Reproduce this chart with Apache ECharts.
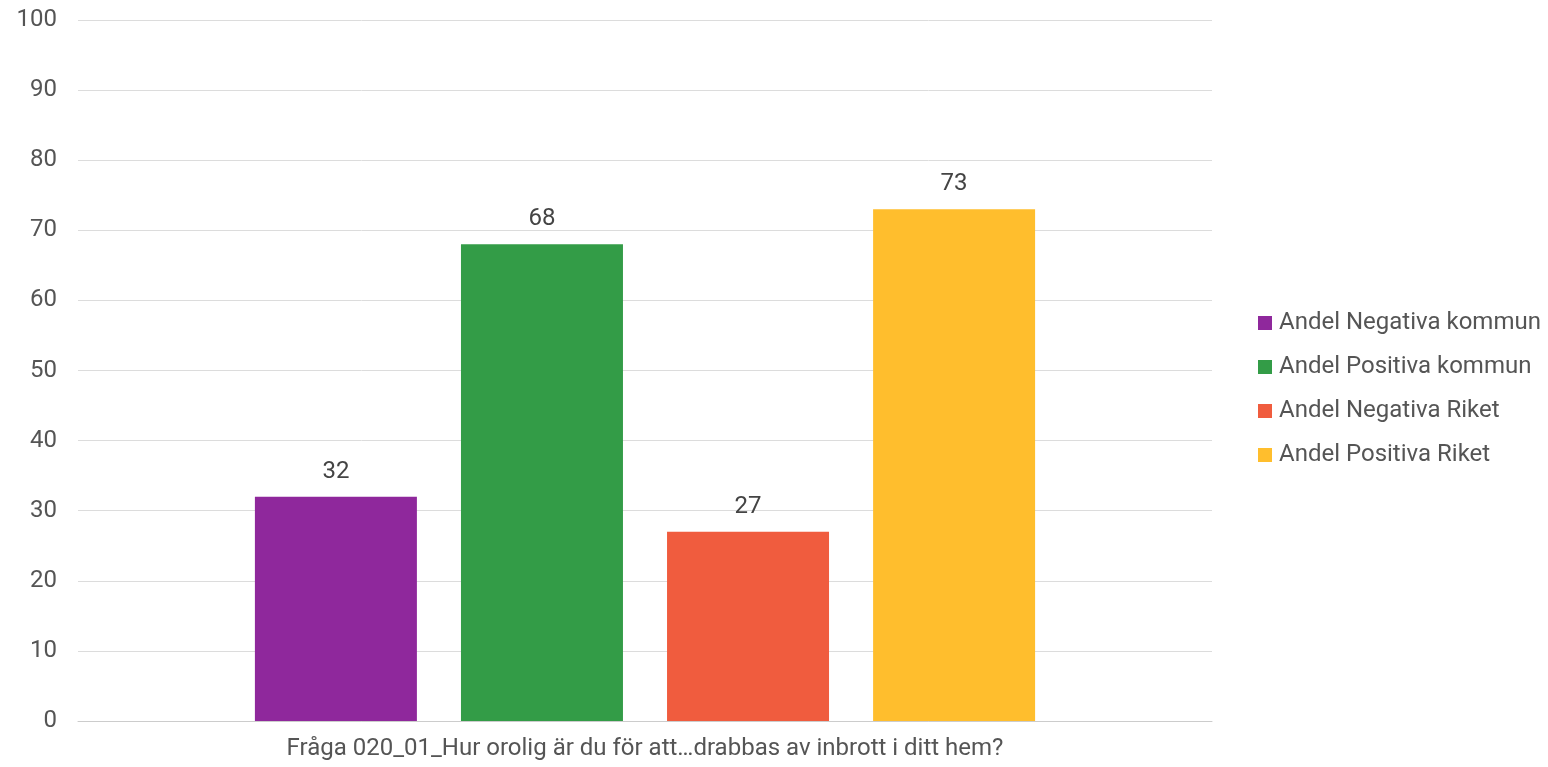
<!DOCTYPE html>
<html><head><meta charset="utf-8">
<script src="https://cdn.jsdelivr.net/npm/echarts@6/dist/echarts.min.js"></script>
<style>html,body{margin:0;padding:0;background:#fff}#c{width:1548px;height:767px}</style>
</head><body><div id="c"></div>
<script>
const categories = ['Fråga 020_01_Hur orolig är du för att…drabbas av inbrott i ditt hem?'];
const seriesNames = ['Andel Negativa kommun', 'Andel Positiva kommun', 'Andel Negativa Riket', 'Andel Positiva Riket'];
const seriesValues = [[32], [68], [27], [73]];
const colors = ['#8F289C', '#339C47', '#F05C3E', '#FFBE2D'];

const chart = echarts.init(document.getElementById('c'));
const font = 'Roboto';
chart.setOption({
  animation: false,
  textStyle: { fontFamily: font },
  grid: { left: 78, right: 336, top: 20, bottom: 46, containLabel: false },
  legend: {
    orient: 'vertical', left: 1253, top: 306,
    itemWidth: 14, itemHeight: 14, itemGap: 20, icon: 'rect',
    textStyle: { fontFamily: font, fontSize: 24, color: '#555', padding: [0, 0, 0, 2] },
    data: seriesNames
  },
  xAxis: {
    type: 'category', data: categories,
    axisLine: { lineStyle: { color: '#ccc' } }, axisTick: { show: false },
    axisLabel: { fontFamily: font, fontSize: 24, color: '#555', margin: 16 }
  },
  yAxis: {
    type: 'value', min: 0, max: 100, interval: 10,
    axisLine: { show: false }, axisTick: { show: false },
    splitLine: { lineStyle: { color: '#dcdcdc' } },
    axisLabel: { fontFamily: font, fontSize: 24, color: '#555', margin: 21 }
  },
  series: seriesNames.map((n, i) => ({
    name: n, type: 'bar', data: seriesValues[i], barWidth: 162, barGap: '27.2%',
    itemStyle: { color: colors[i] },
    label: { show: true, position: 'top', distance: 13, fontFamily: font, fontSize: 24, color: '#444' }
  }))
});
</script></body></html>
